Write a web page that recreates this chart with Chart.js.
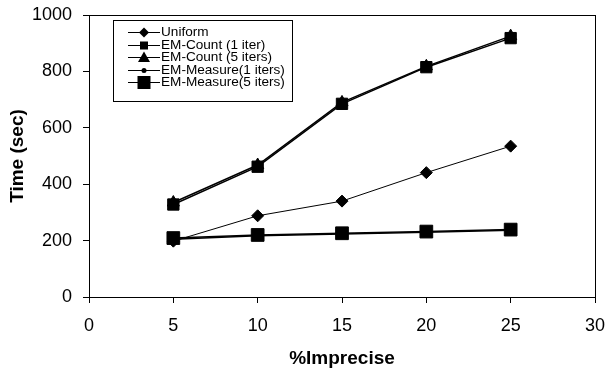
<!DOCTYPE html>
<html>
<head>
<meta charset="utf-8">
<script src="https://cdn.jsdelivr.net/npm/chart.js@4.4.0/dist/chart.umd.min.js"></script>
<style>
  html, body { margin: 0; padding: 0; background: #fff; }
  canvas { display: block; }
</style>
</head>
<body>
<canvas id="timeChart" width="607" height="371"></canvas>
<script>
let imprecise = [5, 10, 15, 20, 25];
let uniform = [198, 288, 340, 441, 535];
let emCount1 = [328, 462, 685, 815, 918];
let emCount5 = [335, 468, 690, 818, 925];
let emMeasure1 = [205, 217, 223, 230, 237];
let emMeasure5 = [209, 220, 226, 232, 239];
let xTicks = [0, 5, 10, 15, 20, 25, 30];
let yTicks = [0, 200, 400, 600, 800, 1000];

const toPoints = (values) => values.map((v, i) => ({ x: imprecise[i], y: v }));

const makeSet = (label, values, style, radius, width, legendSize) => ({
	label: label,
	data: toPoints(values),
	showLine: true,
	borderColor: "#000",
	backgroundColor: "#000",
	borderWidth: width,
	pointStyle: style,
	pointRadius: radius,
	pointBorderWidth: 1,
	pointBackgroundColor: "#000",
	pointBorderColor: "#000",
	legendSize: legendSize,
});

let datasets = [
	makeSet("Uniform", uniform, "rectRot", 6, 1, 5),
	makeSet("EM-Count (1 iter)", emCount1, "rect", 8, 1.5, 4),
	makeSet("EM-Count (5 iters)", emCount5, "triangle", 7, 1.5, 6),
	makeSet("EM-Measure(1 iters)", emMeasure1, "circle", 3, 1.5, 2.5),
	makeSet("EM-Measure(5 iters)", emMeasure5, "rect", 9, 1.5, 6.5),
];

// box round the plot area
const frameBox = {
	id: "frameBox",
	afterDatasetsDraw(chart) {
		const { ctx, chartArea: a } = chart;
		ctx.save();
		ctx.strokeStyle = "#000";
		ctx.lineWidth = 1;
		ctx.strokeRect(Math.round(a.left) + 0.5, Math.round(a.top) + 0.5,
			Math.round(a.right - a.left), Math.round(a.bottom - a.top));
		ctx.restore();
	},
};

const drawMarker = (ctx, style, x, y, s) => {
	ctx.beginPath();
	if (style === "rectRot") {
		ctx.moveTo(x, y - s); ctx.lineTo(x + s, y); ctx.lineTo(x, y + s); ctx.lineTo(x - s, y);
		ctx.closePath();
	} else if (style === "rect") {
		ctx.rect(x - s, y - s, 2 * s, 2 * s);
	} else if (style === "triangle") {
		ctx.moveTo(x, y - s); ctx.lineTo(x + s, y + s * 0.75); ctx.lineTo(x - s, y + s * 0.75);
		ctx.closePath();
	} else {
		ctx.arc(x, y, s, 0, Math.PI * 2);
	}
	ctx.fill();
};

// legend box inside the plot
const insideLegend = {
	id: "insideLegend",
	afterDraw(chart) {
		const ctx = chart.ctx;
		const left = 113, top = 20, w = 179, h = 81;
		ctx.save();
		ctx.fillStyle = "#fff";
		ctx.fillRect(left, top, w, h);
		ctx.strokeStyle = "#000";
		ctx.lineWidth = 1;
		ctx.strokeRect(left + 0.5, top + 0.5, w, h);
		ctx.font = "13.6px 'Liberation Sans', Arial, sans-serif";
		ctx.textBaseline = "middle";
		chart.data.datasets.forEach((ds, i) => {
			const y = 32 + i * 12.5;
			ctx.strokeStyle = "#000";
			ctx.lineWidth = 1;
			ctx.beginPath();
			ctx.moveTo(128, Math.round(y) + 0.5);
			ctx.lineTo(160, Math.round(y) + 0.5);
			ctx.stroke();
			ctx.fillStyle = "#000";
			drawMarker(ctx, ds.pointStyle, 144, Math.round(y) + 0.5, ds.legendSize);
			ctx.fillStyle = "#000";
			ctx.fillText(ds.label, 161, y + 0.5);
		});
		ctx.restore();
	},
};

let tickFont = { family: "'Liberation Sans', Arial, sans-serif", size: 18 };
let titleFont = { family: "'Liberation Sans', Arial, sans-serif", size: 19, weight: "bold" };

new Chart(document.getElementById("timeChart"), {
	type: "scatter",
	data: { datasets: datasets },
	options: {
		responsive: false,
		animation: false,
		devicePixelRatio: 1,
		layout: { padding: { left: 0, top: 15, right: 12, bottom: 0 } },
		plugins: {
			legend: { display: false },
			tooltip: { enabled: false },
		},
		scales: {
			x: {
				type: "linear",
				min: 0,
				max: 30,
				afterBuildTicks: (scale) => { scale.ticks = xTicks.map((v) => ({ value: v })); },
				afterFit: (scale) => {
					scale.height = 74;
					scale.paddingLeft = 0;
					scale.paddingRight = 0;
				},
				grid: { drawOnChartArea: false, color: "#000", tickLength: 6 },
				border: { color: "#000" },
				ticks: { color: "#000", font: tickFont, padding: 12, maxRotation: 0, callback: (v) => String(v) },
				title: { display: true, text: "%Imprecise", color: "#000", font: titleFont, padding: { top: 0, bottom: 1 } },
			},
			y: {
				type: "linear",
				min: 0,
				max: 1000,
				afterBuildTicks: (scale) => { scale.ticks = yTicks.map((v) => ({ value: v })); },
				afterFit: (scale) => {
					scale.width = 89;
					scale.paddingTop = 0;
					scale.paddingBottom = 0;
				},
				grid: { drawOnChartArea: false, color: "#000", tickLength: 6 },
				border: { color: "#000" },
				ticks: { color: "#000", font: tickFont, padding: 11, callback: (v) => String(v) },
				title: { display: true, text: "Time (sec)", color: "#000", font: titleFont, padding: { top: 6, bottom: 0 } },
			},
		},
	},
	plugins: [frameBox, insideLegend],
});
</script>
</body>
</html>
